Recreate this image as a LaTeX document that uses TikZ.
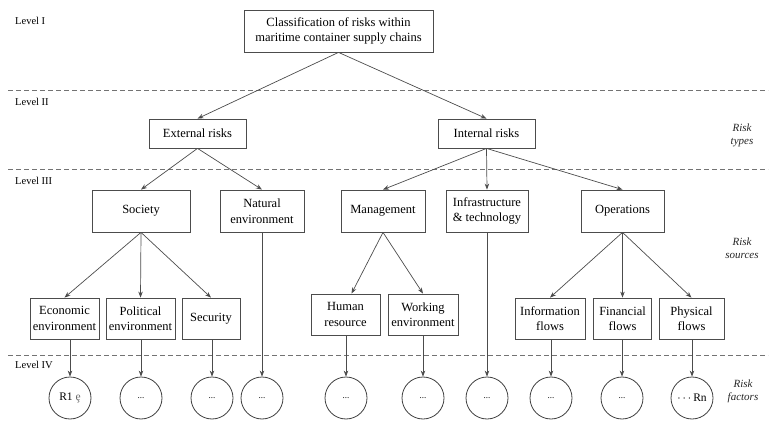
\documentclass[tikz,border=0pt]{standalone}
\usepackage{fontspec}
\setmainfont{Liberation Serif}
\usepackage{tikz}
\usetikzlibrary{calc}
\usetikzlibrary{arrows.meta}
\usetikzlibrary{positioning}
\tikzset{side/.style={font=\fontsize{11}{13}\selectfont\itshape,align=center,text=black!85}}

\begin{document}
\begin{tikzpicture}[x=1pt,y=-1pt]
  % some styles
  \tikzset{
    box/.style={
      rectangle,
      draw=black!70,
      line width=0.8pt,
      fill=white,
      align=center,
      inner sep=0pt,
      font=\fontsize{12.5}{15.5}\selectfont
    }
  }
 \tikzset{leaf/.style={circle,draw=black!75,line width=0.8pt,minimum size=42pt,inner sep=0pt}}
 \tikzset{link/.style={draw=black!70,line width=0.7pt,-{Stealth[length=6pt,width=4.5pt]}}}
 \tikzset{level/.style={dashed,dash pattern=on 5pt off 3pt,draw=black!55,line width=0.8pt}}
 \tikzset{lvl/.style={anchor=west,font=\fontsize{10.5}{12}\selectfont,inner sep=0pt}}

\useasboundingbox (0,0) rectangle (778,427);

% levels
\foreach \y in {90,169,355}
  \draw[level] (8,\y) -- (768,\y);
\node[lvl] (l1) at (15,21) {Level I};
\node[lvl] (l2) at (15,102) {Level II};
\node[lvl] (l3) at (15,181) {Level III};
\node[lvl] (l4) at (15,365) {Level IV};

\node[side] (types) at (742,135) {Risk\\types};
\node[side] (sources) at (742,248) {Risk\\sources};
\node[side] (factors) at (743,391) {Risk\\factors};

% level I and II
\node[box,minimum width=189pt,minimum height=42pt] (root) at (338.5,31) {Classification of risks within\\maritime container supply chains};
\node[box,minimum width=97pt,minimum height=29pt] (ext) at (197.5,133.5) {External risks};
\node[box,minimum width=97pt,minimum height=29pt] (int) at (486.5,133.5) {Internal risks};

% level III
\node[box,minimum width=98pt,minimum height=42pt] (soc) at (141,211) {Society};
\node[box,minimum width=84pt,minimum height=42pt] (nat) at (262,211) {Natural\\environment};
\node[box,minimum width=84pt,minimum height=42pt] (man) at (383,211) {Management};
\node[box,minimum width=82pt,minimum height=42pt] (inf) at (487,211) {Infrastructure\\\& technology};
\node[box,minimum width=83pt,minimum height=42pt] (ope) at (622.5,211) {Operations};

\node[box,minimum width=69pt,minimum height=41pt] (eco) at (64.5,318.5) {Economic\\environment};
\node[box,minimum width=69pt,minimum height=41pt] (pol) at (140.5,318.5) {Political\\environment};
\node[box,minimum width=58pt,minimum height=41pt] (sec) at (211,318.5) {Security};
\node[box,minimum width=69pt,minimum height=41pt] (hum) at (345.5,314.5) {Human\\resource};
\node[box,minimum width=70pt,minimum height=41pt] (wor) at (423,314.5) {Working\\environment};
\node[box,minimum width=70pt,minimum height=41pt] (info) at (550,318.5) {Information\\flows};
\node[box,minimum width=58pt,minimum height=41pt] (fin) at (622.5,318.5) {Financial\\flows};
\node[box,minimum width=65pt,minimum height=41pt] (phy) at (691.5,318.5) {Physical\\flows};

% level IV
\node[leaf] (c1) at (70,398) {\fontsize{11.5}{12}\selectfont R1 {\color{black!60}\c{e}}};
\foreach \x/\n in {141/2,212/3,262/4,346/5,423/6,487/7,551/8,622/9}
  \node[leaf,font=\fontsize{9}{10}\selectfont] (c\n) at (\x,398) {...};
\node[leaf] (c10) at (692,398) {\fontsize{11.5}{12}\selectfont $\cdots$\,Rn};

% connectors
\draw[link] (root.south) -- (ext.north);
\draw[link] (root.south) -- (int.north);
\draw[link] (ext.south) -- (soc.north);
\draw[link] (ext.south) -- (nat.north);
\draw[link] (int.south) -- (man.north);
\draw[link] (int.south) -- (inf.north);
\draw[link] (int.south) -- (ope.north);
\draw[link] (soc.south) -- (eco.north);
\draw[link] (soc.south) -- (pol.north);
\draw[link] (soc.south) -- (sec.north);
\draw[link] (man.south) -- ([xshift=6pt]hum.north);
\draw[link] (man.south) -- (wor.north);
\draw[link] (ope.south) -- (info.north);
\draw[link] (ope.south) -- (fin.north);
\draw[link] (ope.south) -- (phy.north);

\foreach \p/\n in {eco/1,pol/2,sec/3,nat/4,hum/5,wor/6,inf/7,info/8,fin/9,phy/10}
  \draw[link] (c\n.north |- \p.south) -- (c\n.north);

\end{tikzpicture}
\end{document}
